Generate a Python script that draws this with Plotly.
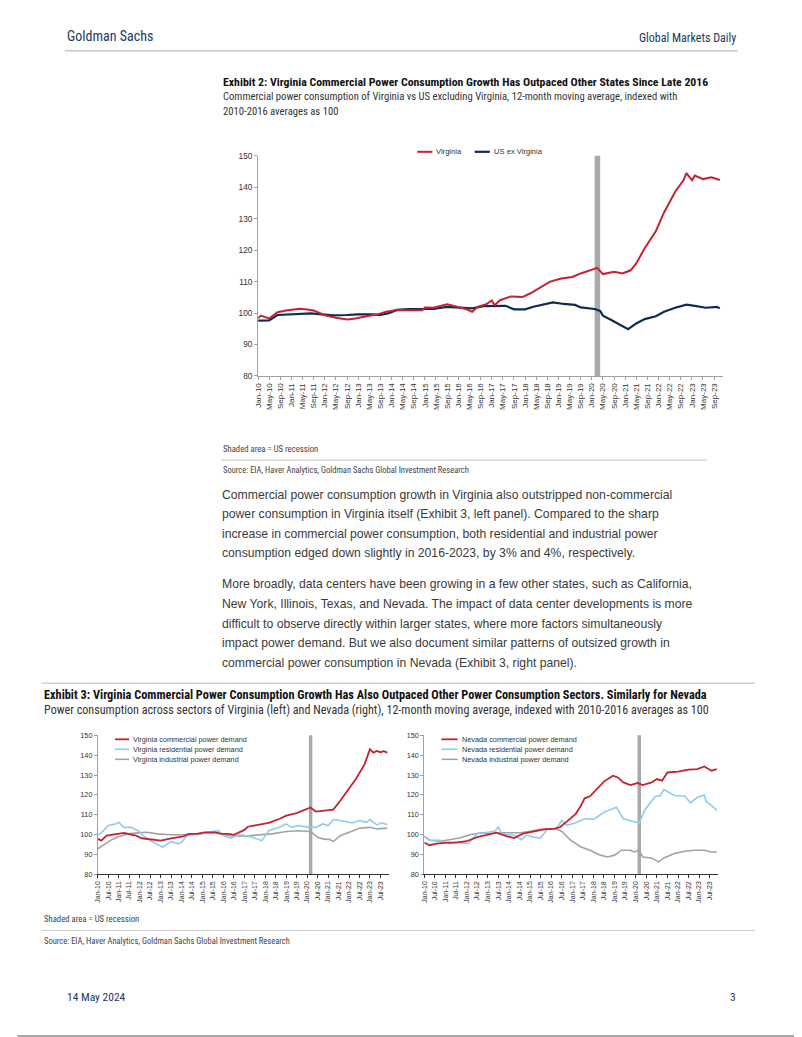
import plotly.graph_objects as go

W, H = 802, 1037
OFF = 8                 # page body margin in front of the figure
AX, SX = 6.8, 0.9877    # measured render calibration (horizontal)
AY, SY = 5.4, 0.9895    # measured render calibration (vertical)


def px(x):
    return ((x - AX) / SX - OFF) / W


def py(y):
    return 1 - ((y - AY) / SY - OFF) / H


NARROW = "Liberation Sans Narrow, Roboto Condensed, DejaVu Sans Condensed, Arial Narrow, sans-serif"
SANS = "Liberation Sans, Arial, sans-serif"
RED = "#C42230"
NAVY = "#0B2C55"
LBLUE = "#8FCBEF"
GREY = "#A3A3A3"
HEAD = "#23395B"

# ---------------- Exhibit 2 data ----------------
va_dates = ["2010-01", "2010-02", "2010-05", "2010-08", "2010-11", "2011-01", "2011-04", "2011-06",
            "2011-09", "2012-01", "2012-05", "2012-09", "2012-12", "2013-04", "2013-08", "2013-11",
            "2014-03", "2014-07", "2014-10", "2014-12", "2015-01", "2015-04", "2015-09", "2016-01",
            "2016-04", "2016-06", "2016-08", "2016-11", "2017-01", "2017-02", "2017-04", "2017-08",
            "2017-12", "2018-03", "2018-06", "2018-10", "2019-02", "2019-06", "2019-09", "2020-01",
            "2020-03", "2020-05", "2020-09", "2020-12", "2021-03", "2021-05", "2021-08", "2021-12",
            "2022-03", "2022-07", "2022-10", "2022-11", "2023-01", "2023-02", "2023-05", "2023-08",
            "2023-11"]
va_vals = [98.4, 99.2, 98.3, 100.3, 100.8, 101.0, 101.4, 101.2,
           100.8, 99.3, 98.5, 98.0, 98.3, 99.0, 99.6, 100.4,
           101.0, 100.9, 100.8, 100.9, 101.8, 101.7, 102.8, 102.0,
           101.2, 100.4, 102.0, 102.8, 104.0, 102.5, 104.1, 105.3,
           105.1, 106.3, 108.0, 110.0, 111.0, 111.5, 112.6, 113.9,
           114.4, 112.4, 113.1, 112.6, 113.6, 115.8, 120.6, 126.0,
           132.0, 138.6, 142.3, 144.5, 142.2, 143.7, 142.6, 143.2,
           142.3]

us_dates = ["2010-01", "2010-05", "2010-08", "2010-12", "2011-04", "2011-08", "2011-12", "2012-04",
            "2012-09", "2013-01", "2013-06", "2013-09", "2013-12", "2014-03", "2014-07", "2014-11",
            "2015-04", "2015-09", "2016-01", "2016-06", "2016-10", "2017-02", "2017-06", "2017-09",
            "2018-01", "2018-04", "2018-09", "2018-11", "2019-03", "2019-07", "2019-09", "2020-02",
            "2020-04", "2020-05", "2020-08", "2020-11", "2021-02", "2021-05", "2021-08", "2021-12",
            "2022-03", "2022-07", "2022-11", "2023-02", "2023-06", "2023-10", "2023-11"]
us_vals = [97.6, 97.7, 99.4, 99.6, 99.6, 99.9, 99.6, 99.3,
           99.4, 99.6, 99.6, 99.4, 100.0, 101.0, 101.3, 101.3,
           101.3, 102.0, 101.7, 101.5, 102.2, 102.3, 102.3, 101.2,
           101.2, 102.0, 102.9, 103.4, 102.9, 102.6, 101.8, 101.3,
           100.7, 99.2, 97.8, 96.4, 94.9, 96.7, 98.1, 99.0,
           100.4, 101.7, 102.7, 102.3, 101.7, 102.0, 101.5]

# ---------------- Exhibit 3 left: Virginia sectors ----------------
vac_dates = ["2010-01", "2010-03", "2010-06", "2010-12", "2011-04", "2011-08", "2011-11", "2012-02",
             "2012-07", "2013-01", "2013-07", "2013-11", "2014-02", "2014-05", "2014-10", "2015-02",
             "2015-08", "2015-12", "2016-04", "2016-07", "2016-10", "2017-01", "2017-03", "2017-09",
             "2018-03", "2018-09", "2019-01", "2019-07", "2019-12", "2020-03", "2020-06", "2020-12",
             "2021-04", "2021-08", "2021-12", "2022-05", "2022-10", "2023-01", "2023-03", "2023-05",
             "2023-07", "2023-09", "2023-11"]
vac_vals = [97.9, 97.0, 99.5, 100.4, 100.9, 100.0, 99.5, 98.2,
            97.5, 97.0, 98.2, 98.7, 99.2, 100.4, 100.4, 101.2,
            101.2, 100.4, 100.4, 99.9, 101.2, 102.4, 104.0, 104.9,
            105.9, 107.9, 109.6, 110.9, 112.9, 113.7, 111.6, 112.1,
            112.6, 117.1, 122.1, 128.0, 135.5, 143.0, 141.3, 142.1,
            141.5, 142.0, 141.3]

var_dates = ["2010-01", "2010-03", "2010-07", "2010-11", "2011-01", "2011-04", "2011-08", "2011-12",
             "2012-03", "2012-07", "2013-02", "2013-05", "2013-07", "2013-11", "2014-01", "2014-04",
             "2014-09", "2015-02", "2015-06", "2015-10", "2016-01", "2016-05", "2016-10", "2017-03",
             "2017-08", "2017-11", "2018-03", "2018-09", "2019-01", "2019-04", "2019-08", "2020-02",
             "2020-06", "2020-10", "2021-01", "2021-04", "2021-08", "2021-12", "2022-03", "2022-07",
             "2022-11", "2023-01", "2023-05", "2023-08", "2023-11"]
var_vals = [99.9, 100.9, 104.6, 105.4, 106.2, 103.7, 103.7, 102.0,
            99.5, 97.0, 93.8, 95.4, 96.5, 95.4, 96.2, 99.5,
            100.4, 100.9, 101.6, 102.0, 99.5, 98.2, 99.9, 99.5,
            97.9, 97.0, 102.0, 103.7, 105.4, 103.7, 104.6, 103.7,
            103.7, 105.4, 104.6, 107.6, 107.1, 106.2, 105.9, 107.1,
            106.2, 107.6, 104.9, 106.0, 105.0]

vai_dates = ["2010-01", "2010-04", "2010-08", "2010-12", "2011-06", "2011-12", "2012-05", "2012-11",
             "2013-07", "2014-03", "2014-10", "2015-04", "2015-10", "2016-04", "2016-12", "2017-09",
             "2018-05", "2019-01", "2019-08", "2020-02", "2020-04", "2020-07", "2020-10", "2021-02",
             "2021-04", "2021-08", "2022-01", "2022-07", "2023-01", "2023-05", "2023-11"]
vai_vals = [92.9, 94.5, 97.0, 98.7, 100.4, 100.9, 101.2, 100.4,
            100.0, 100.0, 100.2, 100.9, 100.9, 99.5, 99.2, 99.9,
            100.4, 101.6, 102.0, 101.6, 100.9, 98.7, 97.9, 97.5,
            96.5, 99.5, 101.2, 103.2, 103.7, 102.9, 103.3]

# ---------------- Exhibit 3 right: Nevada sectors ----------------
nvc_dates = ["2010-01", "2010-04", "2010-08", "2011-02", "2011-07", "2012-01", "2012-07", "2013-01",
             "2013-06", "2013-12", "2014-04", "2014-09", "2015-03", "2015-09", "2016-03", "2016-06",
             "2016-10", "2017-03", "2017-06", "2017-08", "2017-11", "2018-03", "2018-07", "2018-12",
             "2019-03", "2019-06", "2019-10", "2020-02", "2020-05", "2020-10", "2021-01", "2021-04",
             "2021-07", "2022-01", "2022-07", "2022-12", "2023-04", "2023-08", "2023-11"]
nvc_vals = [96.0, 94.7, 95.5, 96.0, 96.0, 96.7, 98.8, 100.0,
            101.0, 99.2, 98.3, 100.5, 101.7, 102.7, 103.0, 103.8,
            106.7, 110.5, 114.7, 118.3, 119.3, 123.0, 126.7, 129.7,
            128.8, 126.3, 125.0, 126.0, 125.0, 126.3, 128.0, 127.2,
            131.3, 131.7, 132.7, 133.0, 134.3, 132.2, 133.0]

nvr_dates = ["2010-01", "2010-04", "2010-10", "2011-03", "2011-07", "2012-02", "2012-07", "2013-01",
             "2013-05", "2013-07", "2013-09", "2014-04", "2014-08", "2014-11", "2015-03", "2015-07",
             "2015-11", "2016-04", "2016-07", "2016-10", "2017-03", "2017-08", "2018-01", "2018-07",
             "2019-02", "2019-06", "2020-01", "2020-03", "2020-06", "2020-12", "2021-03", "2021-05",
             "2021-11", "2022-05", "2022-08", "2022-12", "2023-04", "2023-05", "2023-08", "2023-11"]
nvr_vals = [98.8, 97.2, 97.2, 95.5, 96.3, 95.5, 100.5, 101.3,
            101.7, 103.8, 100.5, 99.7, 97.5, 99.7, 98.8, 98.3,
            103.0, 103.0, 107.2, 104.7, 106.0, 108.0, 107.7, 111.3,
            113.8, 108.0, 106.3, 105.8, 112.2, 119.2, 119.7, 122.7,
            119.7, 119.3, 116.0, 118.8, 120.0, 116.7, 114.7, 112.2]

nvi_dates = ["2010-01", "2010-04", "2010-10", "2011-04", "2011-09", "2012-03", "2012-09", "2013-02",
             "2013-08", "2014-02", "2014-08", "2015-01", "2015-07", "2016-01", "2016-04", "2016-07",
             "2016-12", "2017-06", "2017-11", "2018-05", "2018-09", "2019-01", "2019-05", "2019-10",
             "2019-12", "2020-03", "2020-05", "2020-10", "2021-02", "2021-05", "2021-11", "2022-05",
             "2022-10", "2023-04", "2023-08", "2023-11"]
nvi_vals = [99.3, 97.2, 96.7, 97.5, 98.3, 100.0, 101.0, 100.5,
            101.0, 101.0, 101.0, 101.7, 102.7, 103.0, 102.7, 101.7,
            97.2, 93.8, 92.2, 89.7, 88.8, 89.7, 92.2, 92.2,
            91.3, 92.2, 88.8, 88.3, 86.3, 88.3, 90.5, 91.7,
            92.2, 92.2, 91.3, 91.3]

recession = ["2020-02-01", "2020-04-01"]

# ---------------- text ----------------
body_lines = [
    "Commercial power consumption growth in Virginia also outstripped non-commercial",
    "power consumption in Virginia itself (Exhibit 3, left panel). Compared to the sharp",
    "increase in commercial power consumption, both residential and industrial power",
    "consumption edged down slightly in 2016-2023, by 3% and 4%, respectively.",
    "More broadly, data centers have been growing in a few other states, such as California,",
    "New York, Illinois, Texas, and Nevada. The impact of data center developments is more",
    "difficult to observe directly within larger states, where more factors simultaneously",
    "impact power demand. But we also document similar patterns of outsized growth in",
    "commercial power consumption in Nevada (Exhibit 3, right panel).",
]
body_y = [495, 514, 534, 553, 584, 604, 624, 643, 663]

fig = go.Figure()

# Exhibit 2 traces
fig.add_trace(go.Scatter(x=us_dates, y=us_vals, mode="lines", line=dict(color=NAVY, width=2.2),
                         xaxis="x", yaxis="y", showlegend=False, name="US ex Virginia"))
fig.add_trace(go.Scatter(x=va_dates, y=va_vals, mode="lines", line=dict(color=RED, width=2),
                         xaxis="x", yaxis="y", showlegend=False, name="Virginia"))
# Exhibit 3 left
fig.add_trace(go.Scatter(x=vai_dates, y=vai_vals, mode="lines", line=dict(color=GREY, width=1.6),
                         xaxis="x2", yaxis="y2", showlegend=False))
fig.add_trace(go.Scatter(x=var_dates, y=var_vals, mode="lines", line=dict(color=LBLUE, width=1.6),
                         xaxis="x2", yaxis="y2", showlegend=False))
fig.add_trace(go.Scatter(x=vac_dates, y=vac_vals, mode="lines", line=dict(color=RED, width=1.8),
                         xaxis="x2", yaxis="y2", showlegend=False))
# Exhibit 3 right
fig.add_trace(go.Scatter(x=nvi_dates, y=nvi_vals, mode="lines", line=dict(color=GREY, width=1.6),
                         xaxis="x3", yaxis="y3", showlegend=False))
fig.add_trace(go.Scatter(x=nvr_dates, y=nvr_vals, mode="lines", line=dict(color=LBLUE, width=1.6),
                         xaxis="x3", yaxis="y3", showlegend=False))
fig.add_trace(go.Scatter(x=nvc_dates, y=nvc_vals, mode="lines", line=dict(color=RED, width=1.8),
                         xaxis="x3", yaxis="y3", showlegend=False))


def xax(domain, dtick, size, lc):
    return dict(domain=[px(domain[0]), px(domain[1])], type="date",
                range=["2010-01-01", "2023-12-01"], tickmode="linear", tick0="2010-01-01",
                dtick=dtick, tickformat="%b-%y", tickangle=-90,
                tickfont=dict(family=SANS, size=size, color="#333"), showgrid=False,
                showline=True, linecolor=lc, linewidth=1, ticks="outside", ticklen=3,
                tickcolor=lc, zeroline=False, fixedrange=True)


def yax(domain, size):
    return dict(domain=[py(domain[1]), py(domain[0])], range=[80, 150], dtick=10,
                tickfont=dict(family=SANS, size=size, color="#333"), showgrid=False,
                showline=True, linecolor="#A0A0A0", linewidth=1, ticks="outside", ticklen=3,
                tickcolor="#A0A0A0", zeroline=False, fixedrange=True)


layout = dict(
    width=W, height=H, margin=dict(l=0, r=0, t=0, b=0), paper_bgcolor="white",
    plot_bgcolor="white", showlegend=False,
    xaxis=dict(xax((259, 720), "M4", 8, "#A0A0A0"), anchor="y"),
    yaxis=dict(yax((156, 376), 8.3), anchor="x"),
    xaxis2=dict(xax((100, 389), "M6", 7, "#333"), anchor="y2"),
    yaxis2=dict(yax((735, 874), 7.3), anchor="x2"),
    xaxis3=dict(xax((424, 716), "M6", 7, "#333"), anchor="y3"),
    yaxis3=dict(yax((735, 874), 7.3), anchor="x3"),
)
fig.update_layout(**layout)

shapes = []
# recession bars
for xr, yr in (("x", "y"), ("x2", "y2"), ("x3", "y3")):
    shapes.append(dict(type="rect", xref=xr, yref=yr + " domain", x0=recession[0], x1=recession[1],
                       y0=0, y1=1, fillcolor="#A8A8A8", line=dict(width=0), layer="below"))


def hline(x0, x1, y, color, width):
    shapes.append(dict(type="line", xref="paper", yref="paper", x0=px(x0), x1=px(x1),
                       y0=py(y), y1=py(y), line=dict(color=color, width=width)))


def vline(x, y0, y1, color, width):
    shapes.append(dict(type="line", xref="paper", yref="paper", x0=px(x), x1=px(x),
                       y0=py(y0), y1=py(y1), line=dict(color=color, width=width)))


hline(67, 735, 51, "#CFCFCF", 2)
hline(222, 705, 460, "#CFCFCF", 1.2)
hline(44, 752, 683, "#CFCFCF", 1.5)
hline(44, 752, 930, "#CFCFCF", 1.2)
# page border (right and bottom edges of the page)
vline(800.5, 20, 1036, "#8A8A8A", 1.5)
hline(20, 801, 1035.5, "#8A8A8A", 1.5)

annotations = []


def text(x, y, s, size, color="#333", family=NARROW, anchor="left", bold=False):
    annotations.append(dict(xref="paper", yref="paper", x=px(x), y=py(y), text=s,
                            showarrow=False, xanchor=anchor, yanchor="middle",
                            font=dict(family=family, size=size, color=color,
                                      weight="bold" if bold else "normal")))


# legends (manual)
def legend_item(x0, x1, y, color, label, size, width):
    hline(x0, x1, y, color, width)
    text(x1 + 2, y, label, size, color="#333", family=SANS)


legend_item(417, 432, 152, RED, "Virginia", 7.6, 2)
legend_item(474, 489, 152, NAVY, "US ex Virginia", 7.6, 2.2)
legend_item(117, 131, 739, RED, "Virginia commercial power demand", 7.3, 1.8)
legend_item(117, 131, 749, LBLUE, "Virginia residential power demand", 7.3, 1.6)
legend_item(117, 131, 759, GREY, "Virginia industrial power demand", 7.3, 1.6)
legend_item(441, 457, 739, RED, "Nevada commercial power demand", 7.3, 1.8)
legend_item(441, 457, 749, LBLUE, "Nevada residential power demand", 7.3, 1.6)
legend_item(441, 457, 759, GREY, "Nevada industrial power demand", 7.3, 1.6)

# header / footer
text(67, 36, "Goldman Sachs", 14, color=HEAD)
text(735, 38, "Global Markets Daily", 12, color=HEAD, anchor="right")
text(67, 996, "14 May 2024", 11.5, color=HEAD)
text(735, 996, "3", 11.5, color=HEAD, anchor="right")

# exhibit 2 texts
text(222, 82, "Exhibit 2: Virginia Commercial Power Consumption Growth Has Outpaced Other States Since Late 2016",
     11.8, color="#111", bold=True)
text(222, 97, "Commercial power consumption of Virginia vs US excluding Virginia, 12-month moving average, indexed with",
     10.65, color="#333")
text(222, 112, "2010-2016 averages as 100", 10.65, color="#333")
text(222, 449, "Shaded area = US recession", 8.7, color="#444")
text(222, 470, "Source: EIA, Haver Analytics, Goldman Sachs Global Investment Research", 8.5, color="#444")

# body
for s, y in zip(body_lines, body_y):
    text(221, y, s, 12.2, color="#3A3A3A", family=SANS)

# exhibit 3 texts
text(44, 695, "Exhibit 3: Virginia Commercial Power Consumption Growth Has Also Outpaced Other Power Consumption Sectors. Similarly for Nevada",
     12.3, color="#111", bold=True)
text(44, 710, "Power consumption across sectors of Virginia (left) and Nevada (right), 12-month moving average, indexed with 2010-2016 averages as 100",
     12.1, color="#333")
text(44, 919, "Shaded area = US recession", 8.7, color="#444")
text(44, 941, "Source: EIA, Haver Analytics, Goldman Sachs Global Investment Research", 8.5, color="#444")

fig.update_layout(shapes=shapes, annotations=annotations)
fig.write_html("out.html")
